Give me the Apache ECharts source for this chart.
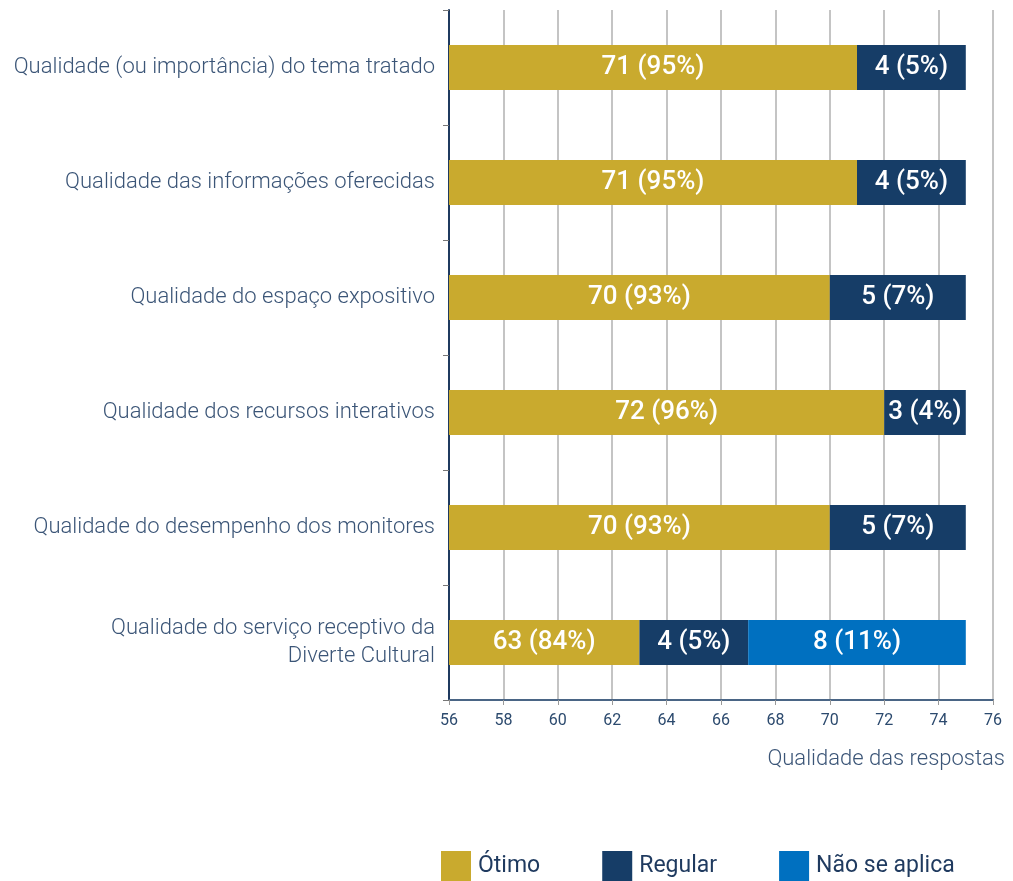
<!DOCTYPE html>
<html>
<head>
<meta charset="utf-8">
<script src="https://cdn.jsdelivr.net/npm/echarts@6/dist/echarts.min.js"></script>
<style>
  html, body { margin: 0; padding: 0; background: #fff; }
  #chart { width: 1013px; height: 881px; }
</style>
</head>
<body>
<div id="chart"></div>
<script>
var categories = [
  'Qualidade (ou importância) do tema tratado',
  'Qualidade das informações oferecidas',
  'Qualidade do espaço expositivo',
  'Qualidade dos recursos interativos',
  'Qualidade do desempenho dos monitores',
  'Qualidade do serviço receptivo da\nDiverte Cultural'
];
var otimo = [71, 71, 70, 72, 70, 63];
var otimoPct = [95, 95, 93, 96, 93, 84];
var regular = [4, 4, 5, 3, 5, 4];
var regularPct = [5, 5, 7, 4, 7, 5];
var naoAplica = [null, null, null, null, null, 8];
var naoAplicaPct = [null, null, null, null, null, 11];

var font = 'Roboto';
var textColor = '#3b5577';

function labelFor(pcts) {
  return {
    show: true,
    position: 'inside',
    color: '#fff',
    fontFamily: font,
    fontWeight: 500,
    fontSize: 26,
    formatter: function (p) {
      if (p.value == null) return '';
      return p.value + ' (' + pcts[p.dataIndex] + '%)';
    }
  };
}

var chart = echarts.init(document.getElementById('chart'));
chart.setOption({
  animation: false,
  grid: { left: 449, right: 20, top: 10, bottom: 181 },
  legend: {
    bottom: 0,
    left: 441,
    padding: 0,
    itemWidth: 30,
    itemHeight: 30,
    itemGap: 62,
    icon: 'rect',
    textStyle: { fontFamily: font, fontSize: 23, color: '#1f3a5f', padding: [0, 0, 0, 2] },
    data: ['Ótimo', 'Regular', 'Não se aplica']
  },
  xAxis: {
    type: 'value',
    min: 56,
    max: 76,
    interval: 2,
    name: 'Qualidade das respostas',
    nameLocation: 'end',
    nameGap: 0,
    nameTextStyle: {
      fontFamily: font, fontWeight: 300, fontSize: 22, color: textColor,
      align: 'right', verticalAlign: 'top', padding: [48, -12, 0, 0]
    },
    axisLine: { show: true, lineStyle: { color: '#4a6585', width: 2 } },
    axisTick: { show: true, length: 5, lineStyle: { color: '#999' } },
    axisLabel: { fontFamily: font, fontSize: 16, color: '#2c4a6e', margin: 13 },
    splitLine: { show: true, lineStyle: { color: '#b0b0b0', width: 1.5 } }
  },
  yAxis: {
    type: 'category',
    inverse: true,
    data: categories,
    axisLine: { show: true, lineStyle: { color: '#1f3a5f', width: 2 } },
    axisTick: { show: true, length: 6, lineStyle: { color: '#777' } },
    axisLabel: {
      fontFamily: font, fontWeight: 300, fontSize: 22, color: textColor,
      margin: 14, lineHeight: 28
    }
  },
  series: [
    { name: 'Ótimo', type: 'bar', stack: 'total', barWidth: 45, data: otimo,
      itemStyle: { color: '#c9aa2e' }, label: labelFor(otimoPct) },
    { name: 'Regular', type: 'bar', stack: 'total', barWidth: 45, data: regular,
      itemStyle: { color: '#163d67' }, label: labelFor(regularPct) },
    { name: 'Não se aplica', type: 'bar', stack: 'total', barWidth: 45, data: naoAplica,
      itemStyle: { color: '#0070c0' }, label: labelFor(naoAplicaPct) }
  ]
});
</script>
</body>
</html>
